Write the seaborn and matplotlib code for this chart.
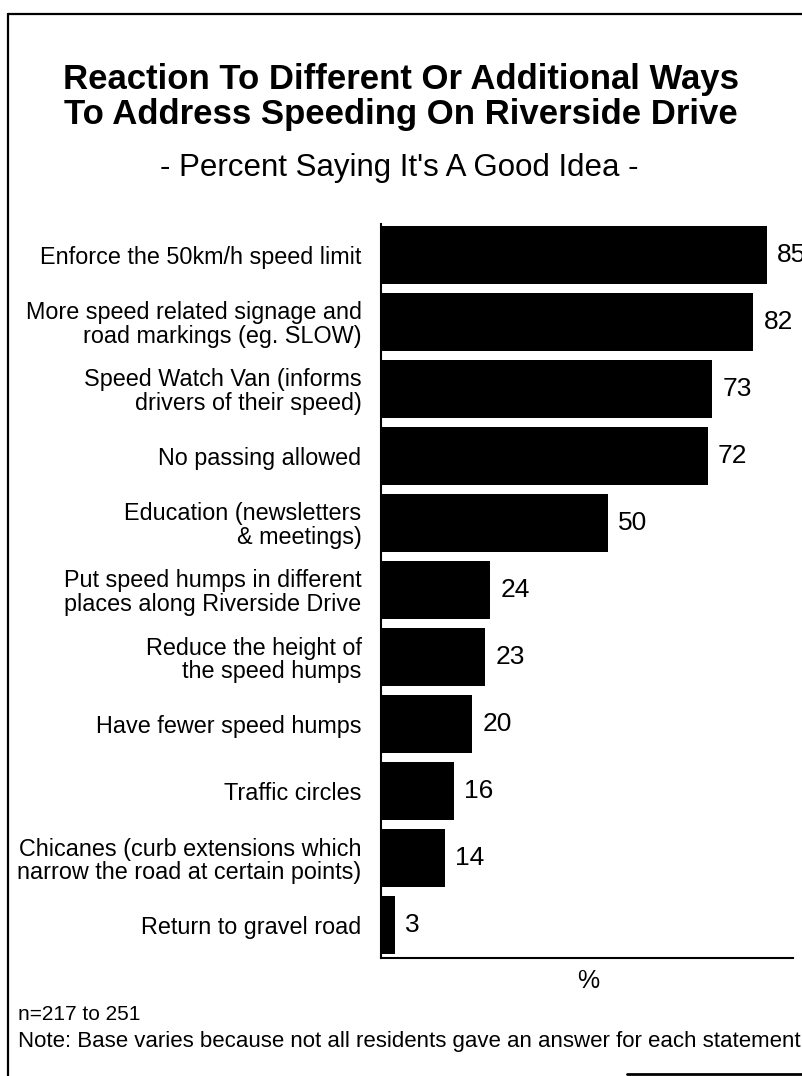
import matplotlib
matplotlib.use("Agg")
import matplotlib.pyplot as plt
from matplotlib.lines import Line2D
import seaborn as sns
import pandas as pd

categories = [
    "Enforce the 50km/h speed limit",
    "More speed related signage and\nroad markings (eg. SLOW)",
    "Speed Watch Van (informs\ndrivers of their speed)",
    "No passing allowed",
    "Education (newsletters\n& meetings)",
    "Put speed humps in different\nplaces along Riverside Drive",
    "Reduce the height of\nthe speed humps",
    "Have fewer speed humps",
    "Traffic circles",
    "Chicanes (curb extensions which\nnarrow the road at certain points)",
    "Return to gravel road",
]
values = [85, 82, 73, 72, 50, 24, 23, 20, 16, 14, 3]

title_lines = ["Reaction To Different Or Additional Ways",
               "To Address Speeding On Riverside Drive"]
subtitle = "- Percent Saying It's A Good Idea -"
xlabel = "%"
note1 = "n=217 to 251"
note2 = "Note: Base varies because not all residents gave an answer for each statement"

sns.set_theme(style="white")
plt.rcParams['font.family'] = ['Liberation Sans', 'DejaVu Sans']

W, H = 803, 1076
fig = plt.figure(figsize=(W / 100, H / 100), dpi=100)
fig.patch.set_facecolor("white")

left, right, top, bottom = 381, 793, 224, 958
ax = fig.add_axes([left / W, 1 - bottom / H, (right - left) / W, (bottom - top) / H])

df = pd.DataFrame({"cat": categories, "val": values})
sns.barplot(data=df, x="val", y="cat", orient="h", color="black",
            saturation=1, width=0.87, ax=ax, edgecolor="black", linewidth=0)

ax.set_xlim(0, 90.8)
ax.set_ylim(10.49, -0.46)
ax.set_xlabel("")
ax.set_ylabel("")
ax.set_xticks([])
for s in ["top", "right"]:
    ax.spines[s].set_visible(False)
for s in ["left", "bottom"]:
    ax.spines[s].set_color("black")
    ax.spines[s].set_linewidth(1.5)
ax.tick_params(axis="y", length=0, pad=14)
for lab in ax.get_yticklabels():
    lab.set_fontsize(16.8)
    lab.set_color("black")
    lab.set_linespacing(1.02)
    lab.set_horizontalalignment("right")

for i, v in enumerate(values):
    ax.annotate(str(v), xy=(v, i), xytext=(7.5, 0), textcoords="offset points",
                va="center", ha="left", fontsize=19, color="black", annotation_clip=False)

fig.text(401 / W, 1 - 89 / H, title_lines[0], ha="center", va="baseline", fontsize=25,
         fontweight="bold", color="black")
fig.text(401 / W, 1 - 124 / H, title_lines[1], ha="center", va="baseline", fontsize=25,
         fontweight="bold", color="black")
fig.text(399 / W, 1 - 176 / H, subtitle, ha="center", va="baseline", fontsize=22.5,
         color="black")
fig.text(588 / W, 1 - 981 / H, xlabel, ha="center", va="center", fontsize=18, color="black")
fig.text(18 / W, 1 - 1015 / H, note1, ha="left", va="center", fontsize=15, color="black")
fig.text(18 / W, 1 - 1041 / H, note2, ha="left", va="center", fontsize=16, color="black")

# frame lines
fig.add_artist(Line2D([8 / W, 1.0], [1 - 14 / H, 1 - 14 / H], color="black", lw=1.6,
                      transform=fig.transFigure))
fig.add_artist(Line2D([8 / W, 8 / W], [1 - 14 / H, 0.0], color="black", lw=1.6,
                      transform=fig.transFigure))
fig.add_artist(Line2D([627 / W, 1.0], [1 - 1074 / H, 1 - 1074 / H], color="black", lw=2,
                      transform=fig.transFigure))

fig.savefig("out.png", dpi=100)
